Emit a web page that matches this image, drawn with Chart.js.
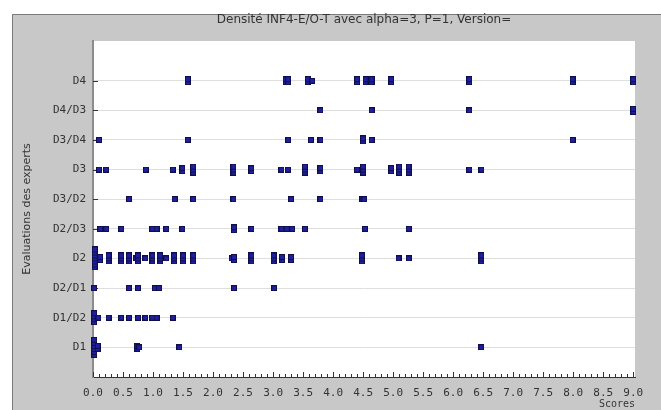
<!DOCTYPE html>
<html>
<head>
<meta charset="utf-8">
<title>Densité INF4-E/O-T</title>
<script src="https://cdn.jsdelivr.net/npm/chart.js@4/dist/chart.umd.min.js"></script>
<style>
body{margin:0;background:#fff;}
canvas{display:block;}
</style>
</head>
<body>
<canvas id="densite" width="661" height="410"></canvas>
<script>
// categories on the vertical axis, bottom to top
var categories = ['D1', 'D1/D2', 'D2/D1', 'D2', 'D2/D3', 'D3/D2', 'D3', 'D3/D4', 'D4/D3', 'D4'];
var xTicks = [0, 0.5, 1, 1.5, 2, 2.5, 3, 3.5, 4, 4.5, 5, 5.5, 6, 6.5, 7, 7.5, 8, 8.5, 9];

// [score, number of experts at that score]
var rowD1   = [[0.02,6],[0.08,2],[0.74,2],[0.77,1],[1.44,1],[6.47,1]];
var rowD1D2 = [[0.02,4],[0.09,1],[0.26,1],[0.47,1],[0.60,1],[0.75,1],[0.87,1],[0.99,1],[1.06,1],[1.33,1]];
var rowD2D1 = [[0.02,1],[0.60,1],[0.75,1],[1.03,1],[1.10,1],[2.35,1],[3.02,1]];
var rowD2   = [[0.03,7],[0.12,2],[0.26,3],[0.47,3],[0.60,3],[0.72,1],[0.75,3],[0.87,1],[0.99,3],[1.12,3],[1.22,1],
               [1.35,3],[1.50,3],[1.67,3],[2.31,1],[2.35,2],[2.64,3],[3.01,3],[3.15,2],[3.30,2],[4.48,3],[5.09,1],[5.26,1],[6.47,3]];
var rowD2D3 = [[0.12,1],[0.22,1],[0.47,1],[0.99,1],[1.06,1],[1.22,1],[1.49,1],[2.35,2],[2.64,1],[3.14,1],[3.23,1],
               [3.32,1],[3.53,1],[4.53,1],[5.26,1]];
var rowD3D2 = [[0.60,1],[1.36,1],[1.67,1],[2.34,1],[3.30,1],[3.79,1],[4.49,1],[4.52,1]];
var rowD3   = [[0.10,1],[0.22,1],[0.88,1],[1.33,1],[1.49,2],[1.67,3],[2.34,3],[2.64,2],[3.14,1],[3.25,1],[3.53,3],
               [3.79,2],[4.40,1],[4.50,3],[4.97,2],[5.10,3],[5.26,3],[6.27,1],[6.47,1]];
var rowD3D4 = [[0.10,1],[1.58,1],[3.25,1],[3.63,1],[3.79,1],[4.50,2],[4.64,1],[7.99,1]];
var rowD4D3 = [[3.79,1],[4.64,1],[6.27,1],[9.0,2]];
var rowD4   = [[1.58,2],[3.21,2],[3.25,2],[3.58,2],[3.65,1],[4.40,2],[4.54,2],[4.64,2],[4.97,2],[6.27,2],[7.99,2],[9.0,2]];

var rows = [rowD1, rowD1D2, rowD2D1, rowD2, rowD2D3, rowD3D2, rowD3, rowD3D4, rowD4D3, rowD4];

var points = [];
rows.forEach(function(row, i){
    row.forEach(function(p){
        points.push({x: p[0], y: i + 1, n: p[1]});
    });
});

// stacked little squares, one per expert
var markers = {};
function Marker(n){
    if (markers[n]) return markers[n];
    var cv = document.createElement('canvas');
    cv.width = 6;
    cv.height = 6 + 3 * (n - 1);
    var g = cv.getContext('2d');
    for (var k = n - 1; k >= 0; k--) {
        g.fillStyle = '#0e0e4a';
        g.fillRect(0, k * 3, 6, 6);
        g.fillStyle = '#20209e';
        g.fillRect(1, k * 3 + 1, 4, 4);
    }
    markers[n] = cv;
    return cv;
}

var framePlugin = {
    id: 'frame',
    beforeDraw: function(chart){
        var c = chart.ctx, a = chart.chartArea;
        c.save();
        c.fillStyle = '#ffffff';
        c.fillRect(0, 0, chart.width, chart.height);
        c.fillStyle = '#c8c8c8';
        c.fillRect(12, 14, chart.width - 12, chart.height - 14);
        c.strokeStyle = '#7a7a7a';
        c.lineWidth = 1;
        c.beginPath();
        c.moveTo(12.5, chart.height);
        c.lineTo(12.5, 14.5);
        c.lineTo(chart.width, 14.5);
        c.stroke();
        c.fillStyle = '#ffffff';
        c.fillRect(a.left, a.top, a.right - a.left, a.bottom - a.top);
        c.restore();
    },
    beforeDatasetsDraw: function(chart){
        var c = chart.ctx, a = chart.chartArea;
        var xs = chart.scales.x, ys = chart.scales.y;
        c.save();
        c.strokeStyle = '#333333';
        c.lineWidth = 1;
        c.beginPath();
        for (var i = 0; i <= 90; i++) {
            var px = Math.round(xs.getPixelForValue(i / 10)) + 0.5;
            var len = (i % 5 === 0) ? 5 : 3;
            c.moveTo(px, a.bottom);
            c.lineTo(px, a.bottom - len);
        }
        categories.forEach(function(cat, j){
            var py = Math.round(ys.getPixelForValue(j + 1)) + 0.5;
            c.moveTo(a.left, py);
            c.lineTo(a.left + 5, py);
        });
        c.stroke();
        c.restore();
    }
};

var tickFont = {family: 'DejaVu Sans Mono', size: 11};

new Chart(document.getElementById('densite'), {
    type: 'scatter',
    data: {
        datasets: [{
            data: points,
            pointRadius: 3,
            pointStyle: function(ctx){ return Marker(ctx.raw ? ctx.raw.n : 1); },
            clip: false
        }]
    },
    options: {
        responsive: false,
        animation: false,
        events: [],
        layout: {padding: {left: 0, right: 26, top: 0, bottom: 0}},
        plugins: {
            legend: {display: false},
            tooltip: {enabled: false},
            title: {
                display: true,
                fullSize: false,
                text: 'Densité INF4-E/O-T avec alpha=3, P=1, Version=',
                color: '#333333',
                font: {family: 'DejaVu Sans', size: 12, weight: 'normal'},
                padding: {top: 13, bottom: 13.6}
            }
        },
        scales: {
            x: {
                type: 'linear',
                min: 0,
                max: 9.03,
                afterBuildTicks: function(s){ s.ticks = xTicks.map(function(v){ return {value: v}; }); },
                afterFit: function(s){ s.height = 33; },
                grid: {drawOnChartArea: false, drawTicks: false},
                border: {color: '#333333', width: 1},
                ticks: {
                    color: '#333333',
                    font: tickFont,
                    padding: 10,
                    maxRotation: 0,
                    autoSkip: false,
                    callback: function(v){ return Number(v).toFixed(1); }
                },
                title: {
                    display: true,
                    text: 'Scores',
                    align: 'end',
                    color: '#333333',
                    font: {family: 'DejaVu Sans Mono', size: 10},
                    padding: {top: 0, bottom: 0}
                }
            },
            y: {
                type: 'linear',
                min: 0,
                max: 11.34,
                afterBuildTicks: function(s){ s.ticks = categories.map(function(c, i){ return {value: i + 1}; }); },
                afterFit: function(s){ s.width = 93; },
                grid: {color: '#dedede', lineWidth: 1, drawTicks: false},
                border: {color: '#8c8c8c', width: 2},
                ticks: {
                    color: '#333333',
                    font: tickFont,
                    padding: 7,
                    autoSkip: false,
                    callback: function(v){ return categories[v - 1]; }
                },
                title: {
                    display: true,
                    text: 'Evaluations des experts',
                    color: '#333333',
                    font: {family: 'DejaVu Sans', size: 11},
                    padding: {top: 21, bottom: 0}
                }
            }
        }
    },
    plugins: [framePlugin]
});
</script>
</body>
</html>
